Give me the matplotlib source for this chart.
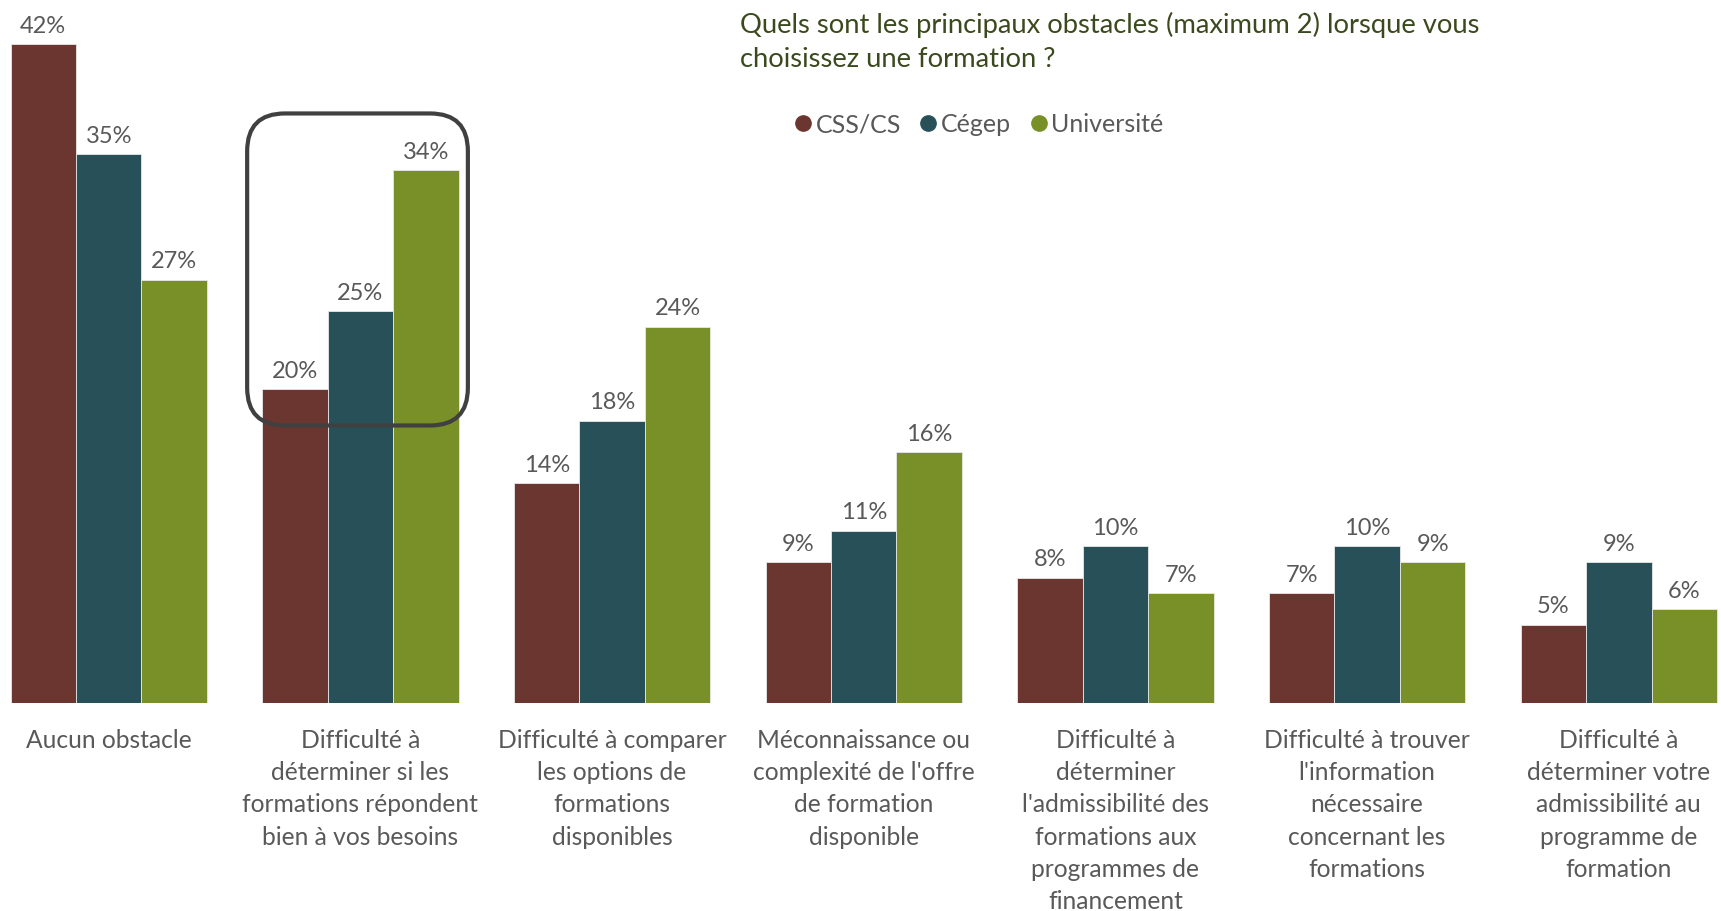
import numpy as np
import matplotlib.pyplot as plt
from matplotlib.patches import FancyBboxPatch
from matplotlib.lines import Line2D

categories = [
    "Aucun obstacle",
    "Difficulté à\ndéterminer si les\nformations répondent\nbien à vos besoins",
    "Difficulté à comparer\nles options de\nformations\ndisponibles",
    "Méconnaissance ou\ncomplexité de l'offre\nde formation\ndisponible",
    "Difficulté à\ndéterminer\nl'admissibilité des\nformations aux\nprogrammes de\nfinancement",
    "Difficulté à trouver\nl'information\nnécessaire\nconcernant les\nformations",
    "Difficulté à\ndéterminer votre\nadmissibilité au\nprogramme de\nformation",
]
css_cs = [42, 20, 14, 9, 8, 7, 5]
cegep = [35, 25, 18, 11, 10, 10, 9]
universite = [27, 34, 24, 16, 7, 9, 6]
series_names = ["CSS/CS", "Cégep", "Université"]
colors = ["#6B3630", "#275058", "#798F28"]

plt.rcParams['font.family'] = ['Lato', 'DejaVu Sans']

fig = plt.figure(figsize=(17.21, 9.12), dpi=100)
ax = fig.add_axes([0, 1 - 704 / 912, 1, 704 / 912])

x = np.arange(len(categories))
w = 0.26
label_color = "#595959"
for k, (vals, c) in enumerate(zip([css_cs, cegep, universite], colors)):
    pos = x + (k - 1) * w
    ax.bar(pos, vals, width=w, color=c, edgecolor="#e8e8e8", linewidth=0.6)
    for px, v in zip(pos, vals):
        ax.annotate(f"{v}%", (px, v), xytext=(0, 6), textcoords="offset points",
                    ha="center", va="bottom", fontsize=17, color=label_color)

ax.set_xlim(-0.432, 6.406)
ax.set_ylim(0, 44.9)
ax.axis("off")

# category labels under the bars
for i, cat in enumerate(categories):
    ax.text(i, -0.035, cat, transform=ax.get_xaxis_transform(), ha="center",
            va="top", fontsize=17.7, color=label_color, linespacing=1.49)

# highlight box around the second group
fig.canvas.draw()
px_x = ax.transData.transform((1, 0))[0] - ax.transData.transform((0, 0))[0]
px_y = ax.transData.transform((0, 1))[1] - ax.transData.transform((0, 0))[1]
box = FancyBboxPatch((1 - 0.45, 17.7), 0.877, 37.6 - 17.7,
                     boxstyle="round,pad=0,rounding_size=0.15",
                     mutation_aspect=px_x / px_y,
                     fill=False, edgecolor="#404040", linewidth=3, clip_on=False,
                     zorder=5)
ax.add_patch(box)

# title
fig.text(740 / 1721, 1 - 12 / 912,
         "Quels sont les principaux obstacles (maximum 2) lorsque vous\nchoisissez une formation ?",
         ha="left", va="top", fontsize=19.7, color="#3B4A1E", linespacing=1.43)

# legend
handles = [Line2D([], [], marker="o", linestyle="", markersize=11, color=c)
           for c in colors]
fig.legend(handles, series_names, loc="center left",
           bbox_to_anchor=(768 / 1721, 1 - 125 / 912), ncol=3, frameon=False,
           fontsize=18, labelcolor=label_color, handletextpad=0.0,
           columnspacing=0.6, handlelength=1.0)

fig.savefig("out.png", dpi=100)
